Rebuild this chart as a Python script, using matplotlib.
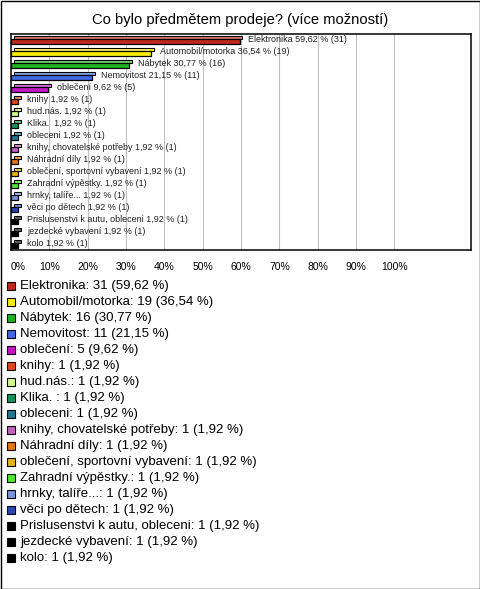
import numpy as np
import matplotlib
matplotlib.use("Agg")
import matplotlib.pyplot as plt
from matplotlib.patches import Rectangle
import matplotlib.colors as mcolors

plt.rcParams['font.family'] = ['Liberation Sans', 'DejaVu Sans']

# Data
categories = [
    "Elektronika", "Automobil/motorka", "Nábytek", "Nemovitost", "oblečení",
    "knihy", "hud.nás.", "Klika. ", "obleceni", "knihy, chovatelské potřeby",
    "Náhradní díly", "oblečení, sportovní vybavení", "Zahradní výpěstky.",
    "hrnky, talíře...", "věci po dětech", "Prislusenstvi k autu, obleceni",
    "jezdecké vybavení", "kolo",
]
counts = [31, 19, 16, 11, 5, 1, 1, 1, 1, 1, 1, 1, 1, 1, 1, 1, 1, 1]
percents = [59.62, 36.54, 30.77, 21.15, 9.62] + [1.92] * 13
bar_labels = [
    "Elektronika 59,62 % (31)", "Automobil/motorka 36,54 % (19)",
    "Nábytek 30,77 % (16)", "Nemovitost 21,15 % (11)", "oblečení 9,62 % (5)",
    "knihy 1,92 % (1)", "hud.nás. 1,92 % (1)", "Klika.  1,92 % (1)",
    "obleceni 1,92 % (1)", "knihy, chovatelské potřeby 1,92 % (1)",
    "Náhradní díly 1,92 % (1)", "oblečení, sportovní vybavení 1,92 % (1)",
    "Zahradní výpěstky. 1,92 % (1)", "hrnky, talíře... 1,92 % (1)",
    "věci po dětech 1,92 % (1)", "Prislusenstvi k autu, obleceni 1,92 % (1)",
    "jezdecké vybavení 1,92 % (1)", "kolo 1,92 % (1)",
]
colors = [
    "#C0281C", "#FFEE00", "#1EB41E", "#4169E6", "#C814C8",
    "#E0461A", "#D2FF8C", "#14965A", "#1E7896", "#C060C0",
    "#E07814", "#E6B414", "#50E632", "#7896DC", "#2846B4",
    "#000000", "#000000", "#000000",
]
xticks = [0, 10, 20, 30, 40, 50, 60, 70, 80, 90, 100]

W, H = 480, 589
fig = plt.figure(figsize=(W / 100, H / 100), dpi=100)
fig.patch.set_facecolor("white")

ax = fig.add_axes([11 / W, 1 - 250 / H, 460 / W, 216 / H])
n = len(categories)
y = np.arange(n)

for i in range(n):
    c = colors[i]
    light = mcolors.to_rgb(c)
    light = tuple(min(1, v * 0.6 + 0.4) for v in light)
    # top face (3D look)
    ax.barh(y[i] - 0.2, percents[i], left=0.7, height=0.22,
            color=light, edgecolor="black", linewidth=0.8, zorder=2)
    # front face
    ax.barh(y[i] + 0.12, percents[i], height=0.42, color=c,
            edgecolor="black", linewidth=0.9, zorder=3)
    ax.text(percents[i] + 2.3, y[i], bar_labels[i], fontsize=6.5,
            va="center", ha="left", color="#222222", zorder=4)

ax.set_xlim(0, 120)
ax.set_ylim(n - 0.5, -0.5)
ax.set_yticks([])
ax.set_xticks(xticks)
ax.set_xticklabels([f"{t}%" for t in xticks], fontsize=7.5)
ax.get_xticklabels()[0].set_horizontalalignment("left")
ax.tick_params(axis="x", length=0, pad=9)
for t in xticks[1:]:
    ax.axvline(t, color="#c0c0c0", linewidth=0.8, zorder=0)
for s in ax.spines.values():
    s.set_linewidth(1.1)
    s.set_color("black")

fig.text(0.5, 1 - 20 / H, "Co bylo předmětem prodeje? (více možností)",
         ha="center", va="center", fontsize=10.6)

# legend drawn as rows
y0 = 286
step = 16.0
for i in range(n):
    yy = y0 + i * step
    fig.add_artist(Rectangle((7 / W, 1 - (yy + 4) / H), 8 / W, 8 / H,
                             transform=fig.transFigure, facecolor=colors[i],
                             edgecolor="black", linewidth=0.8))
    pct = str(percents[i]).replace(".", ",")
    fig.text(20 / W, 1 - yy / H, f"{categories[i]}: {counts[i]} ({pct} %)",
             ha="left", va="center", fontsize=9.5)

# outer frame
fig.add_artist(Rectangle((0.5 / W, 0.5 / H), (W - 1) / W, (H - 1) / H,
                         transform=fig.transFigure, fill=False,
                         edgecolor="black", linewidth=1))

fig.savefig("out.png", dpi=100)
